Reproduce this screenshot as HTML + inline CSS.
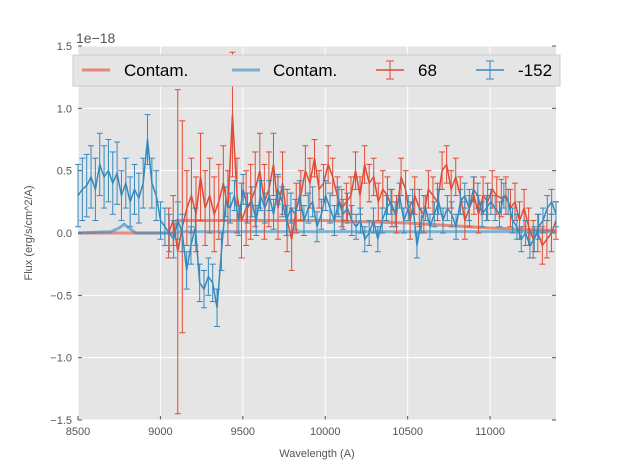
<!DOCTYPE html>
<html><head><meta charset="utf-8"><style>
body{margin:0;background:#fff;font-family:"Liberation Sans","DejaVu Sans",sans-serif}
svg{display:block}
</style></head><body>
<svg id="c" width="617" height="467" xmlns="http://www.w3.org/2000/svg"></svg>
<script>
const xTicks=[8500,9000,9500,10000,10500,11000];
const yTicks=[-1.5,-1.0,-0.5,0.0,0.5,1.0,1.5];
const blueStart=8500, redStart=9050, xEnd=11400;
const blueVals=[0.3,0.35,0.38,0.45,0.35,0.55,0.45,0.5,0.4,0.48,0.3,0.4,0.25,0.35,0.28,0.4,0.75,0.4,0.3,0.1,0.05,0.0,-0.05,0.1,0.0,-0.3,-0.1,0.05,-0.4,-0.45,-0.35,-0.4,-0.6,-0.15,0.25,0.2,0.3,0.1,0.35,0.2,0.25,0.1,0.3,0.2,0.3,0.15,0.35,0.25,0.1,0.2,0.15,0.3,0.1,0.2,0.25,0.05,0.15,0.3,0.2,0.1,0.25,0.15,0.2,0.1,0.05,0.1,-0.05,0.0,0.1,-0.05,0.1,0.2,0.25,0.15,0.3,0.1,0.2,0.25,-0.1,0.1,0.2,0.05,0.15,0.25,0.1,0.2,0.15,0.05,0.25,0.3,0.2,0.35,0.3,0.15,0.2,0.25,0.2,0.15,0.3,0.25,0.1,0.05,-0.05,0.0,-0.1,-0.05,0.05,0.1,0.2,0.25,0.15];
const blueErr=[0.25,0.25,0.25,0.25,0.25,0.25,0.25,0.25,0.25,0.25,0.2,0.2,0.2,0.2,0.2,0.2,0.2,0.2,0.2,0.15,0.15,0.15,0.15,0.15,0.15,0.15,0.15,0.15,0.15,0.15,0.15,0.15,0.15,0.15,0.12,0.12,0.12,0.12,0.12,0.12,0.12,0.12,0.12,0.12,0.12,0.12,0.12,0.12,0.12,0.12,0.12,0.12,0.12,0.12,0.12,0.12,0.12,0.12,0.12,0.12,0.12,0.12,0.12,0.12,0.1,0.1,0.1,0.1,0.1,0.1,0.1,0.1,0.1,0.1,0.1,0.1,0.1,0.1,0.1,0.1,0.1,0.1,0.1,0.1,0.1,0.1,0.1,0.1,0.1,0.1,0.1,0.1,0.1,0.1,0.1,0.1,0.1,0.1,0.1,0.1,0.1,0.1,0.1,0.1,0.1,0.1,0.1,0.1,0.1,0.1,0.1];
const redVals=[0.0,0.1,-0.15,0.05,0.2,0.3,0.15,0.45,0.2,0.3,0.15,0.25,0.4,0.2,0.95,0.3,0.1,0.2,0.25,0.35,0.5,0.25,0.35,0.55,0.2,0.4,0.1,-0.05,0.2,0.3,0.5,0.4,0.6,0.35,0.4,0.55,0.45,0.3,0.2,0.25,0.3,0.5,0.3,0.55,0.4,0.45,0.25,0.35,0.3,0.2,0.15,0.45,0.35,0.1,0.3,0.2,0.15,0.35,0.3,0.25,0.5,0.55,0.35,0.45,0.3,0.1,0.2,0.3,0.15,0.3,0.25,0.35,0.3,0.28,0.3,0.2,0.25,0.1,0.2,0.05,-0.05,0.0,-0.1,-0.05,0.0,0.1];
const redErr=[0.2,0.2,1.3,0.85,0.3,0.3,0.3,0.35,0.3,0.3,0.3,0.3,0.3,0.3,0.5,0.3,0.3,0.3,0.3,0.3,0.3,0.3,0.3,0.25,0.25,0.25,0.25,0.25,0.2,0.2,0.2,0.2,0.15,0.15,0.15,0.15,0.15,0.15,0.15,0.15,0.15,0.15,0.15,0.15,0.15,0.15,0.15,0.15,0.15,0.15,0.15,0.15,0.15,0.15,0.15,0.15,0.15,0.15,0.15,0.15,0.15,0.15,0.15,0.15,0.15,0.15,0.15,0.15,0.15,0.15,0.15,0.15,0.15,0.15,0.15,0.15,0.15,0.15,0.15,0.15,0.15,0.15,0.15,0.15,0.15,0.15];
const redContamX=[8500,9080,9100,10000,10500,11000,11400];
const redContamY=[0.0,0.0,0.1,0.1,0.08,0.04,0.02];
const blueContamX=[8500,8700,8750,8780,8810,8850,9100,9120,11400];
const blueContamY=[0.0,0.01,0.04,0.07,0.04,0.0,0.0,0.01,0.01];

const L=78,R=556,T=46,B=420;
const xs=v=>L+(v-8500)/(11400-8500)*(R-L);
const ys=v=>B-(v+1.5)/3*(B-T);
const svg=document.getElementById('c');
const NS='http://www.w3.org/2000/svg';
function mk(tag,attrs,parent){const e=document.createElementNS(NS,tag);for(const k in attrs)e.setAttribute(k,attrs[k]);(parent||svg).appendChild(e);return e;}
const bg=mk('rect',{x:L,y:T,width:R-L,height:B-T,fill:'#e5e5e5'});


xTicks.forEach(t=>{const x=xs(t);
 mk('line',{x1:x,y1:T,x2:x,y2:B,stroke:'#fff','stroke-width':1});
 mk('line',{x1:x,y1:B,x2:x,y2:B-4,stroke:'#555'});
 const tx=mk('text',{x:x,y:B+15,'text-anchor':'middle','font-size':11,fill:'#555'});tx.textContent=t;
 
 
});
yTicks.forEach(t=>{const y=ys(t);
 mk('line',{x1:L,y1:y,x2:R,y2:y,stroke:'#fff','stroke-width':1});
 mk('line',{x1:L,y1:y,x2:L+4,y2:y,stroke:'#555'});
 mk('line',{x1:R,y1:y,x2:R-4,y2:y,stroke:'#555'});
 const tx=mk('text',{x:L-6,y:y+4,'text-anchor':'end','font-size':11,fill:'#555'});tx.textContent=t.toFixed(1).replace('-','\u2212');
 
 
});
function line(X,Y,color,w,op,name){const p=mk('polyline',{points:X.map((x,i)=>xs(x)+','+ys(Y[i])).join(' '),fill:'none',stroke:color,'stroke-width':w,'stroke-opacity':op});
 
 }
line(redContamX,redContamY,'#e24a33',3,0.6,'contam-red-line');
line(blueContamX,blueContamY,'#348abd',3,0.6,'contam-blue-line');
function series(start,vals,errs,color,name){
 const n=vals.length, step=(xEnd-start)/(n-1);
 const g=mk('g',{});
 
 
 vals.forEach((v,i)=>{const x=xs(start+i*step),y1=ys(v-errs[i]),y2=ys(v+errs[i]);
  mk('line',{x1:x,y1:y1,x2:x,y2:y2,stroke:color,'stroke-width':1},g);
  mk('line',{x1:x-3,y1:y1,x2:x+3,y2:y1,stroke:color,'stroke-width':1},g);
  mk('line',{x1:x-3,y1:y2,x2:x+3,y2:y2,stroke:color,'stroke-width':1},g);});
 mk('polyline',{points:vals.map((v,i)=>xs(start+i*step)+','+ys(v)).join(' '),fill:'none',stroke:color,'stroke-width':1.5},g);
}
series(redStart,redVals,redErr,'#e24a33','series-68');
series(blueStart,blueVals,blueErr,'#348abd','series-minus-152');
const lg=mk('g',{});


mk('rect',{x:73,y:55,width:487,height:31,fill:'#e5e5e5',stroke:'#ccc'},lg);
mk('line',{x1:82,y1:70,x2:110,y2:70,stroke:'#e24a33','stroke-width':3,'stroke-opacity':0.6},lg);
mk('line',{x1:232,y1:70,x2:260,y2:70,stroke:'#348abd','stroke-width':3,'stroke-opacity':0.6},lg);
[[376,'#e24a33'],[476,'#348abd']].forEach(([x,c])=>{
 mk('line',{x1:x,y1:70,x2:x+28,y2:70,stroke:c,'stroke-width':1.5},lg);
 mk('line',{x1:x+14,y1:61,x2:x+14,y2:79,stroke:c},lg);
 mk('line',{x1:x+10,y1:61,x2:x+18,y2:61,stroke:c},lg);
 mk('line',{x1:x+10,y1:79,x2:x+18,y2:79,stroke:c},lg);});
[[124,'Contam.'],[273,'Contam.'],[418,'68'],[518,'-152']].forEach(([x,t])=>{
 const e=mk('text',{x:x,y:76,'font-size':17,fill:'#000'},lg);e.textContent=t;
 
 });
const off=mk('text',{x:76,y:43,'font-size':14,fill:'#555'});off.textContent='1e\u221218';


const xl=mk('text',{x:317,y:457,'text-anchor':'middle','font-size':11,fill:'#555'});xl.textContent='Wavelength (A)';


const yl=mk('text',{x:0,y:0,'text-anchor':'middle','font-size':11,fill:'#555',transform:'translate(32,233) rotate(-90)'});yl.textContent='Flux (erg/s/cm^2/A)';


</script>
</body></html>
